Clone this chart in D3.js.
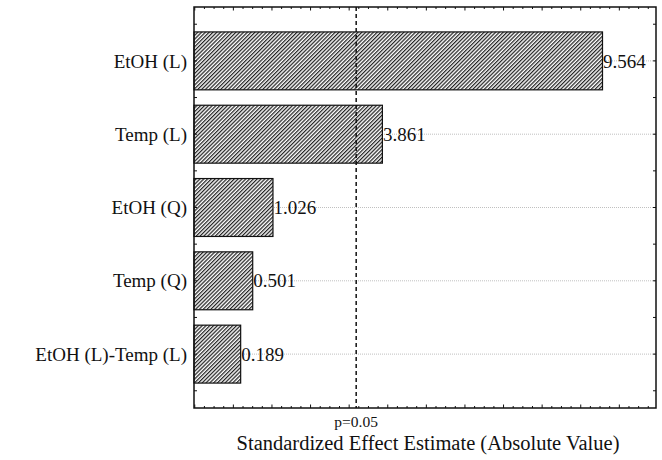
<!DOCTYPE html>
<html>
<head>
<meta charset="utf-8">
<script src="https://cdn.jsdelivr.net/npm/d3@7"></script>
<style>
  html, body { margin: 0; padding: 0; background: #fff; }
  svg { display: block; }
  text { font-family: "Liberation Serif", "Times New Roman", serif; fill: #111; }
</style>
</head>
<body>
<script>
const categories = ["EtOH (L)", "Temp (L)", "EtOH (Q)", "Temp (Q)", "EtOH (L)-Temp (L)"];
const effects = [9.564, 3.861, 1.026, 0.501, 0.189];
const valueLabels = ["9.564", "3.861", "1.026", "0.501", "0.189"];
const critical = 3.182;
const criticalLabel = "p=0.05";
const xTitle = "Standardized Effect Estimate (Absolute Value)";

const W = 662, H = 460;
const m = { left: 194, right: 6, top: 7, bottom: 52 };
const svg = d3.select("body").append("svg").attr("width", W).attr("height", H);

const x = d3.scaleLinear().domain([-1.02, 10.95]).range([m.left, W - m.right]);
const y = d3.scaleBand().domain(categories).range([m.top, H - m.bottom])
  .paddingInner(0.21).paddingOuter(0.34);

const defs = svg.append("defs");
const pat = defs.append("pattern").attr("id", "hatch")
  .attr("patternUnits", "userSpaceOnUse").attr("width", 2.7).attr("height", 2.7)
  .attr("patternTransform", "rotate(45)");
pat.append("rect").attr("width", 2.7).attr("height", 2.7).attr("fill", "#fff");
pat.append("line").attr("x1", 0.6).attr("y1", 0).attr("x2", 0.6).attr("y2", 2.7)
  .attr("stroke", "#222").attr("stroke-width", 1.3);

const x0 = x.range()[0], x1 = x.range()[1], y0 = m.top, y1 = H - m.bottom;

// grid lines
svg.append("g").selectAll("line").data(categories).join("line")
  .attr("x1", x0).attr("x2", x1)
  .attr("y1", d => y(d) + y.bandwidth() / 2).attr("y2", d => y(d) + y.bandwidth() / 2)
  .attr("stroke", "#b0b0b0").attr("stroke-width", 0.8).attr("stroke-dasharray", "1,1");

// bars
svg.append("g").selectAll("rect").data(categories).join("rect")
  .attr("x", x0)
  .attr("y", d => y(d))
  .attr("width", (d, i) => x(effects[i]) - x0)
  .attr("height", y.bandwidth())
  .attr("fill", "url(#hatch)")
  .attr("stroke", "#111").attr("stroke-width", 1.2);

// value labels
svg.append("g").selectAll("text").data(categories).join("text")
  .attr("x", (d, i) => x(effects[i]) + 0.5)
  .attr("y", d => y(d) + y.bandwidth() / 2)
  .attr("dy", "0.35em")
  .attr("font-size", 19)
  .text((d, i) => valueLabels[i]);

// category labels
svg.append("g").selectAll("text").data(categories).join("text")
  .attr("x", x0 - 7)
  .attr("y", d => y(d) + y.bandwidth() / 2)
  .attr("dy", "0.35em")
  .attr("text-anchor", "end")
  .attr("font-size", 19)
  .text(d => d);

// critical line
svg.append("line")
  .attr("x1", x(critical)).attr("x2", x(critical))
  .attr("y1", y0).attr("y2", y1)
  .attr("stroke", "#111").attr("stroke-width", 1.5).attr("stroke-dasharray", "4,3");

// ticks (inward) on bottom and top
const minorTicks = d3.range(-1, 10.96, 0.25);
const tickG = svg.append("g").attr("stroke", "#111").attr("stroke-width", 1);
minorTicks.forEach(v => {
  const major = Math.abs(v - Math.round(v)) < 1e-6;
  const len = major ? 3.5 : 2;
  tickG.append("line").attr("x1", x(v)).attr("x2", x(v)).attr("y1", y1).attr("y2", y1 - len);
  tickG.append("line").attr("x1", x(v)).attr("x2", x(v)).attr("y1", y0).attr("y2", y0 + len);
});
// left / right ticks at half steps
const halfSteps = [];
categories.forEach(c => { halfSteps.push(y(c) + y.bandwidth() / 2); halfSteps.push(y(c) - y.step() * y.paddingInner() / 2); });
halfSteps.push(y(categories[categories.length - 1]) + y.bandwidth() + y.step() * y.paddingInner() / 2);
halfSteps.forEach(v => {
  tickG.append("line").attr("x1", x0).attr("x2", x0 + 3).attr("y1", v).attr("y2", v);
  tickG.append("line").attr("x1", x1).attr("x2", x1 - 3).attr("y1", v).attr("y2", v);
});

// frame
svg.append("rect").attr("x", x0).attr("y", y0).attr("width", x1 - x0).attr("height", y1 - y0)
  .attr("fill", "none").attr("stroke", "#111").attr("stroke-width", 1.5);

// axis labels
svg.append("text").attr("x", x(critical)).attr("y", y1 + 19)
  .attr("text-anchor", "middle").attr("font-size", 15.5).text(criticalLabel);
svg.append("text").attr("x", (x0 + x1) / 2 + 3).attr("y", y1 + 42)
  .attr("text-anchor", "middle").attr("font-size", 20.5).text(xTitle);
</script>
</body>
</html>
